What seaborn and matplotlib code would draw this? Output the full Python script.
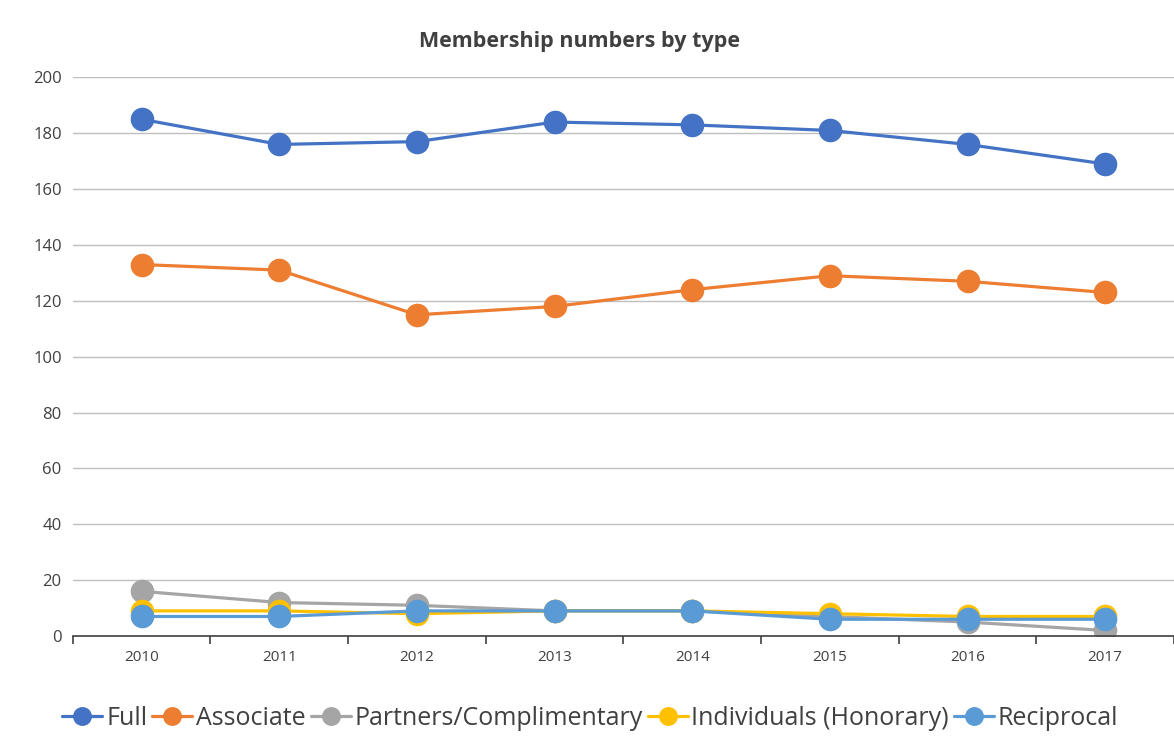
import pandas as pd
import matplotlib.pyplot as plt
import seaborn as sns
from matplotlib.ticker import MultipleLocator

years = ["2010", "2011", "2012", "2013", "2014", "2015", "2016", "2017"]
full = [185, 176, 177, 184, 183, 181, 176, 169]
associate = [133, 131, 115, 118, 124, 129, 127, 123]
partners = [16, 12, 11, 9, 9, 7, 5, 2]
individuals = [9, 9, 8, 9, 9, 8, 7, 7]
reciprocal = [7, 7, 9, 9, 9, 6, 6, 6]

series_names = ["Full", "Associate", "Partners/Complimentary",
                "Individuals (Honorary)", "Reciprocal"]
colors = ["#4472C4", "#ED7D31", "#A5A5A5", "#FFC000", "#5B9BD5"]

rows = []
for name, vals in zip(series_names, [full, associate, partners, individuals, reciprocal]):
    for i, v in enumerate(vals):
        rows.append({"idx": i, "value": v, "type": name})
df = pd.DataFrame(rows)

sns.set_style("white")
plt.rcParams['font.family'] = ['Open Sans', 'DejaVu Sans']

fig, ax = plt.subplots(figsize=(11.74, 7.37), dpi=100)
fig.subplots_adjust(left=0.062, right=1.0, top=0.895, bottom=0.137)

sns.lineplot(data=df, x="idx", y="value", hue="type", hue_order=series_names,
             palette=colors, marker="o", markersize=17, linewidth=2.3,
             markeredgewidth=0, dashes=False, ax=ax, legend=True)

ax.set_xlim(-0.5, 7.5)
ax.set_ylim(0, 200)
ax.yaxis.set_major_locator(MultipleLocator(20))
ax.set_xticks(range(len(years)))
ax.set_xticklabels(years)
ax.set_xticks([i - 0.5 for i in range(len(years) + 1)], minor=True)
ax.tick_params(axis="x", which="both", bottom=True)
ax.tick_params(axis="x", which="major", length=0, pad=10, labelsize=11, colors="#404040")
ax.tick_params(axis="x", which="minor", length=6, width=1.2, color="#404040", direction="out")
ax.tick_params(axis="y", length=0, labelsize=12, colors="#404040", pad=8)
ax.grid(axis="y", color="#BFBFBF", linewidth=1)
ax.set_axisbelow(True)
for side in ["top", "right", "left"]:
    ax.spines[side].set_visible(False)
ax.spines["bottom"].set_color("#404040")
ax.spines["bottom"].set_linewidth(1.2)
ax.set_xlabel("")
ax.set_ylabel("")
ax.set_title("Membership numbers by type", fontsize=15.5, fontweight="bold",
             color="#404040", pad=22, x=0.46)

handles, labels = ax.get_legend_handles_labels()
ax.legend(handles, labels, loc="upper center", bbox_to_anchor=(0.47, -0.085),
          ncol=5, frameon=False, fontsize=18, handlelength=1.6,
          handletextpad=0.15, columnspacing=0.2, labelcolor="#404040",
          markerscale=0.8)

fig.savefig("out.png", dpi=100)
